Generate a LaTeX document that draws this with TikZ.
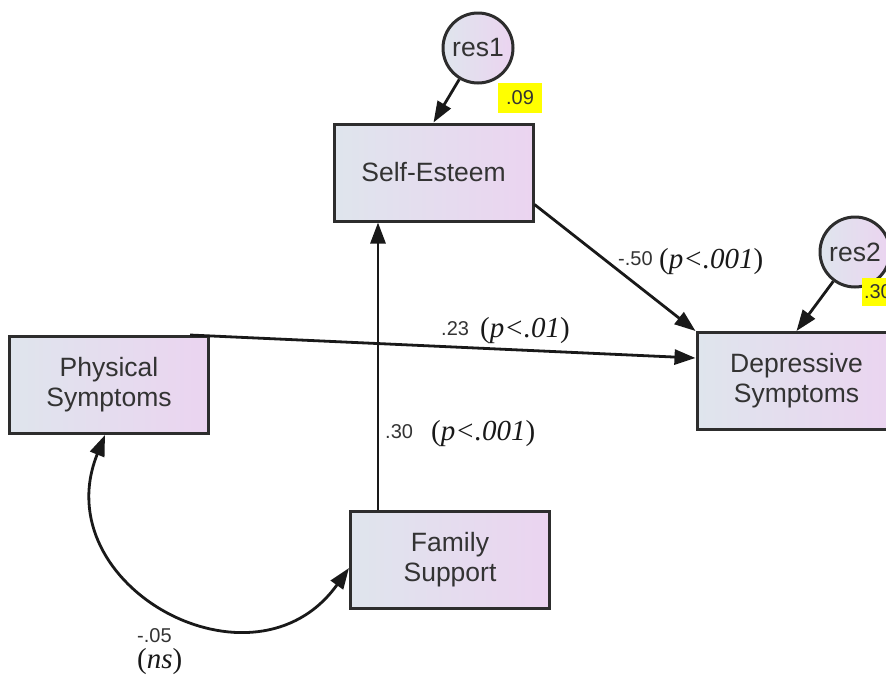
\documentclass[tikz,border=0pt]{standalone}
\usepackage{fontspec}
\setmainfont{Liberation Sans}
\newfontfamily\timesfont{Liberation Serif}
\usetikzlibrary{arrows.meta}

\definecolor{BoxLeftColor}{RGB}{223,229,237}
\definecolor{BoxRightColor}{RGB}{235,212,240}
\definecolor{BorderColor}{RGB}{45,45,45}
\definecolor{HighlightColor}{RGB}{255,255,0}

\tikzset{
  varbox/.style={draw=BorderColor, line width=3pt, left color=BoxLeftColor, right color=BoxRightColor,
    minimum width=199pt, minimum height=97pt, align=center, text=black!80,
    font=\fontsize{26.5}{30}\selectfont},
  resid/.style={circle, draw=BorderColor, line width=3pt, left color=BoxLeftColor, right color=BoxRightColor,
    minimum size=70pt, inner sep=0pt, text=black!80, font=\fontsize{26.5}{30}\selectfont},
  effect/.style={draw=black!90, line width=2.8pt, -{Triangle[length=21pt,width=15pt]}},
  covar/.style={draw=black!90, line width=2.8pt, {Triangle[length=21pt,width=15pt]}-{Triangle[length=21pt,width=15pt]}},
  coef/.style={anchor=base west, inner sep=0pt, text=black!80, font=\fontsize{20}{23}\selectfont},
  sig/.style={anchor=base west, inner sep=0pt, text=black!90, font=\timesfont\itshape\fontsize{29}{32}\selectfont},
  rsq/.style={fill=HighlightColor, inner sep=0pt, text=black!80, font=\fontsize{20}{23}\selectfont}
}

\begin{document}
\begin{tikzpicture}[x=1pt,y=-1pt]
	\useasboundingbox (0,0) rectangle (886,675);

	% variables
	\node [varbox] (esteem) at (433.5,172.5) {Self-Esteem};
	\node [varbox] (depress) at (796.5,381) {Depressive\\Symptoms};
	\node [varbox] (physical) at (109,385) {Physical\\Symptoms};
	\node [varbox] (family) at (450,560) {Family\\Support};
	\node [resid] (res1) at (478,48) {res1};
	\node [resid] (res2) at (855,252) {res2};

	% squared multiple correlations
	\node [rsq, minimum width=44pt, minimum height=30pt] (rsq1) at (520,98) {.09};
	\node [rsq, minimum width=34pt, minimum height=28pt, text width=30pt] (rsq2) at (879,292) {.30};

	% paths
	\draw [effect] (res1) -- (esteem.north);
	\draw [effect] (res2) -- (depress.north);
	\draw [effect] ([yshift=-32pt]esteem.east) -- (depress.north west);
	\draw [effect] ([xshift=-20pt]physical.north east) -- ([yshift=23pt]depress.west);
	\draw [effect] ([xshift=-72pt]family.north) -- ([xshift=-55.5pt]esteem.south);
	\draw [covar] ([xshift=-4pt]physical.south) to [out=248, in=234.5, looseness=1.5] ([yshift=-8pt]family.west);

	% estimates
	\node [coef] (c1) at (618,265) {-.50};
	\node [sig] (s1) at (659,268) {{\upshape(}p<.001{\upshape)}};
	\node [coef] (c2) at (441,335) {.23};
	\node [sig] (s2) at (480,337) {{\upshape(}p<.01{\upshape)}};
	\node [coef] (c3) at (385,438) {.30};
	\node [sig] (s3) at (431,440) {{\upshape(}p<.001{\upshape)}};
	\node [coef] (c4) at (137,642) {-.05};
	\node [sig] (s4) at (137,668) {{\upshape(}ns{\upshape)}};
\end{tikzpicture}
\end{document}
